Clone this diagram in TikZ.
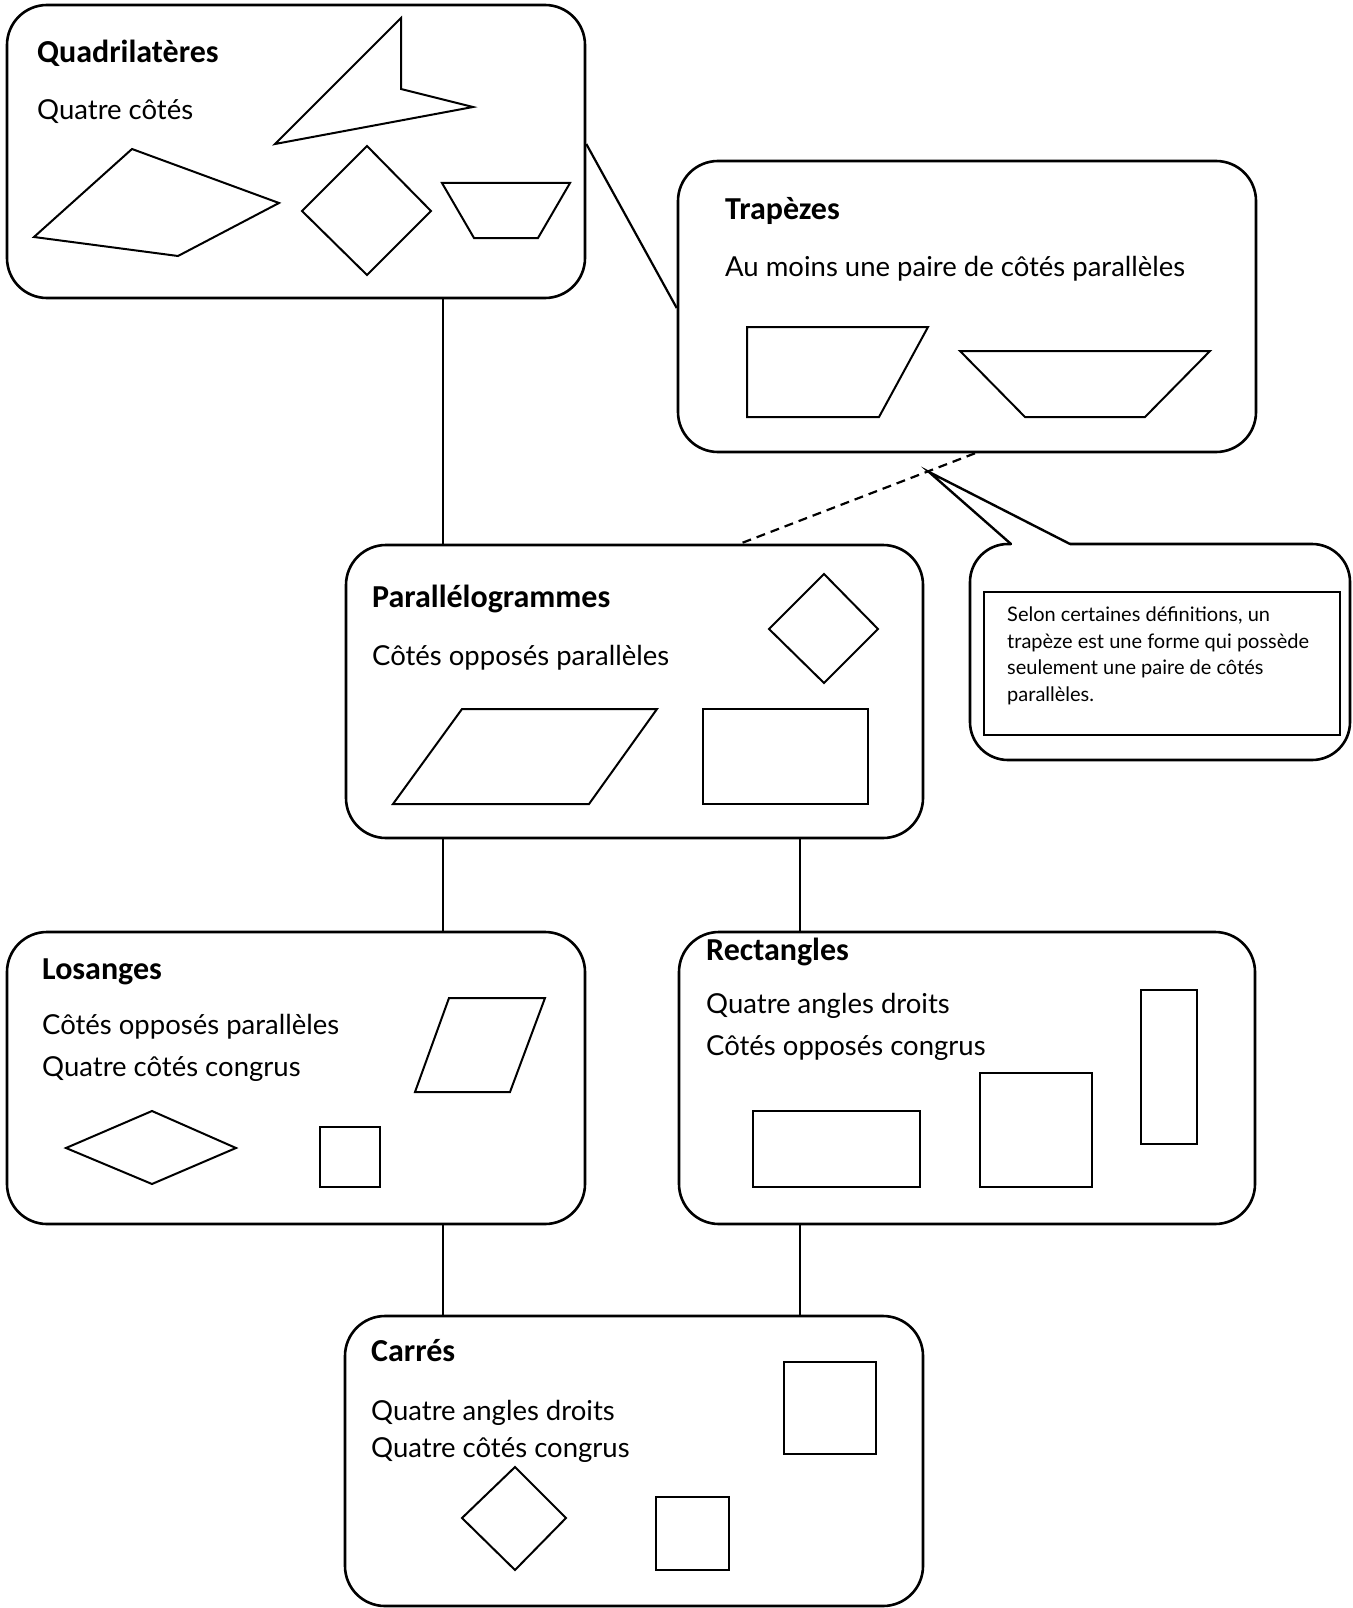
\documentclass[tikz,border=0pt]{standalone}
\usepackage{fontspec}
\setmainfont{Lato}
\newfontfamily\titlefont{Carlito}
\begin{document}
\begin{tikzpicture}[x=1pt,y=-1pt,
  box/.style={draw,line width=2.6pt,rounded corners=40pt,inner sep=0pt},
  fig/.style={draw,line width=2pt,line join=miter},
  link/.style={line width=2.2pt},
  ttl/.style={anchor=base west,inner sep=0pt,font=\titlefont\bfseries\fontsize{32}{38}\selectfont},
  txt/.style={anchor=base west,inner sep=0pt,font=\fontsize{27.5}{33}\selectfont},
  ntxt/.style={anchor=base west,inner sep=0pt,font=\fontsize{20}{26}\selectfont}]
\useasboundingbox (0,0) rectangle (1352,1608);
% boxes
\node[box,minimum width=578pt,minimum height=293pt] (quad) at (296,151.5) {};
\node[box,minimum width=578pt,minimum height=291pt] (trap) at (967,306.5) {};
\node[box,minimum width=577pt,minimum height=293pt] (para) at (634.5,691.5) {};
\node[box,minimum width=578pt,minimum height=292pt] (los) at (296,1078) {};
\node[box,minimum width=576pt,minimum height=292pt] (rect) at (967,1078) {};
\node[box,minimum width=578pt,minimum height=290pt] (carr) at (634,1461) {};
% connectors
\draw[link] (quad.south -| 443,0) -- (para.north -| 443,0);
\draw[link] (para.south -| 443,0) -- (los.north -| 443,0);
\draw[link] (para.south -| 800,0) -- (rect.north -| 800,0);
\draw[link] (los.south -| 443,0) -- (carr.north -| 443,0);
\draw[link] (rect.south -| 800,0) -- (carr.north -| 800,0);
\draw[link] (quad.east |- 0,144) -- (trap.west |- 0,308);
\draw[link,dash pattern=on 9pt off 6pt] (trap.south -| 975,0) -- (para.north -| 740,0);
% callout
\coordinate (tip) at (929,472);
\draw[line width=2.6pt,rounded corners=38pt] (1011,544) -- (970,544) -- (970,760) -- (1350,760) -- (1350,544) -- (1070,544);
\draw[line width=2.4pt,line cap=round] (1070,544) -- (tip) -- (1011,544);
\node[draw,line width=1.8pt,minimum width=356pt,minimum height=143pt,anchor=north west,inner sep=0pt] (note) at (983,591) {};
\node[ntxt] (n1) at (1007,621) {Selon certaines définitions, un};
\node[ntxt] (n2) at (1007,648) {trapèze est une forme qui possède};
\node[ntxt] (n3) at (1007,674) {seulement une paire de côtés};
\node[ntxt] (n4) at (1007,701) {parallèles.};
% Quadrilateres
\node[ttl] (qt) at (37,63) {Quadrilatères};
\node[txt] (qb) at (37,120) {Quatre côtés};
\draw[fig] (275,144) -- (401,18) -- (401,89) -- (473,107) -- cycle;
\draw[fig] (34,237) -- (132,149) -- (279,203) -- (178,256) -- cycle;
\draw[fig] (302,211) -- (367,146) -- (431,211) -- (367,275) -- cycle;
\draw[fig] (442,183) -- (570,183) -- (538,238) -- (474,238) -- cycle;
% Trapezes
\node[ttl] (tt) at (725,219) {Trapèzes};
\node[txt] (tb) at (725,276) {Au moins une paire de côtés parallèles};
\draw[fig] (747,327) -- (928,327) -- (879,417) -- (747,417) -- cycle;
\draw[fig] (960,351) -- (1210,351) -- (1145,417) -- (1025,417) -- cycle;
% Parallelogrammes
\node[ttl] (pt) at (372,607) {Parallélogrammes};
\node[txt] (pb) at (372,665) {Côtés opposés parallèles};
\draw[fig] (824,574) -- (878,629) -- (824,683) -- (769,629) -- cycle;
\draw[fig] (393,804) -- (462,709) -- (657,709) -- (589,804) -- cycle;
\draw[fig] (703,709) rectangle (868,804);
% Losanges
\node[ttl] (lt) at (42,979) {Losanges};
\node[txt] (lb1) at (42,1034) {Côtés opposés parallèles};
\node[txt] (lb2) at (42,1076) {Quatre côtés congrus};
\draw[fig] (415,1092) -- (449,998) -- (545,998) -- (510,1092) -- cycle;
\draw[fig] (66,1148) -- (152,1111) -- (236,1148) -- (152,1184) -- cycle;
\draw[fig] (320,1127) rectangle (380,1187);
% Rectangles
\node[ttl] (rt) at (706,960) {Rectangles};
\node[txt] (rb1) at (706,1013) {Quatre angles droits};
\node[txt] (rb2) at (706,1055) {Côtés opposés congrus};
\draw[fig] (753,1111) rectangle (920,1187);
\draw[fig] (980,1073) rectangle (1092,1187);
\draw[fig] (1141,990) rectangle (1197,1144);
% Carres
\node[ttl] (ct) at (371,1361) {Carrés};
\node[txt] (cb1) at (371,1420) {Quatre angles droits};
\node[txt] (cb2) at (371,1457) {Quatre côtés congrus};
\draw[fig] (784,1362) rectangle (876,1454);
\draw[fig] (515,1467) -- (566,1518) -- (515,1570) -- (462,1518) -- cycle;
\draw[fig] (656,1497) rectangle (729,1570);
\end{tikzpicture}
\end{document}
